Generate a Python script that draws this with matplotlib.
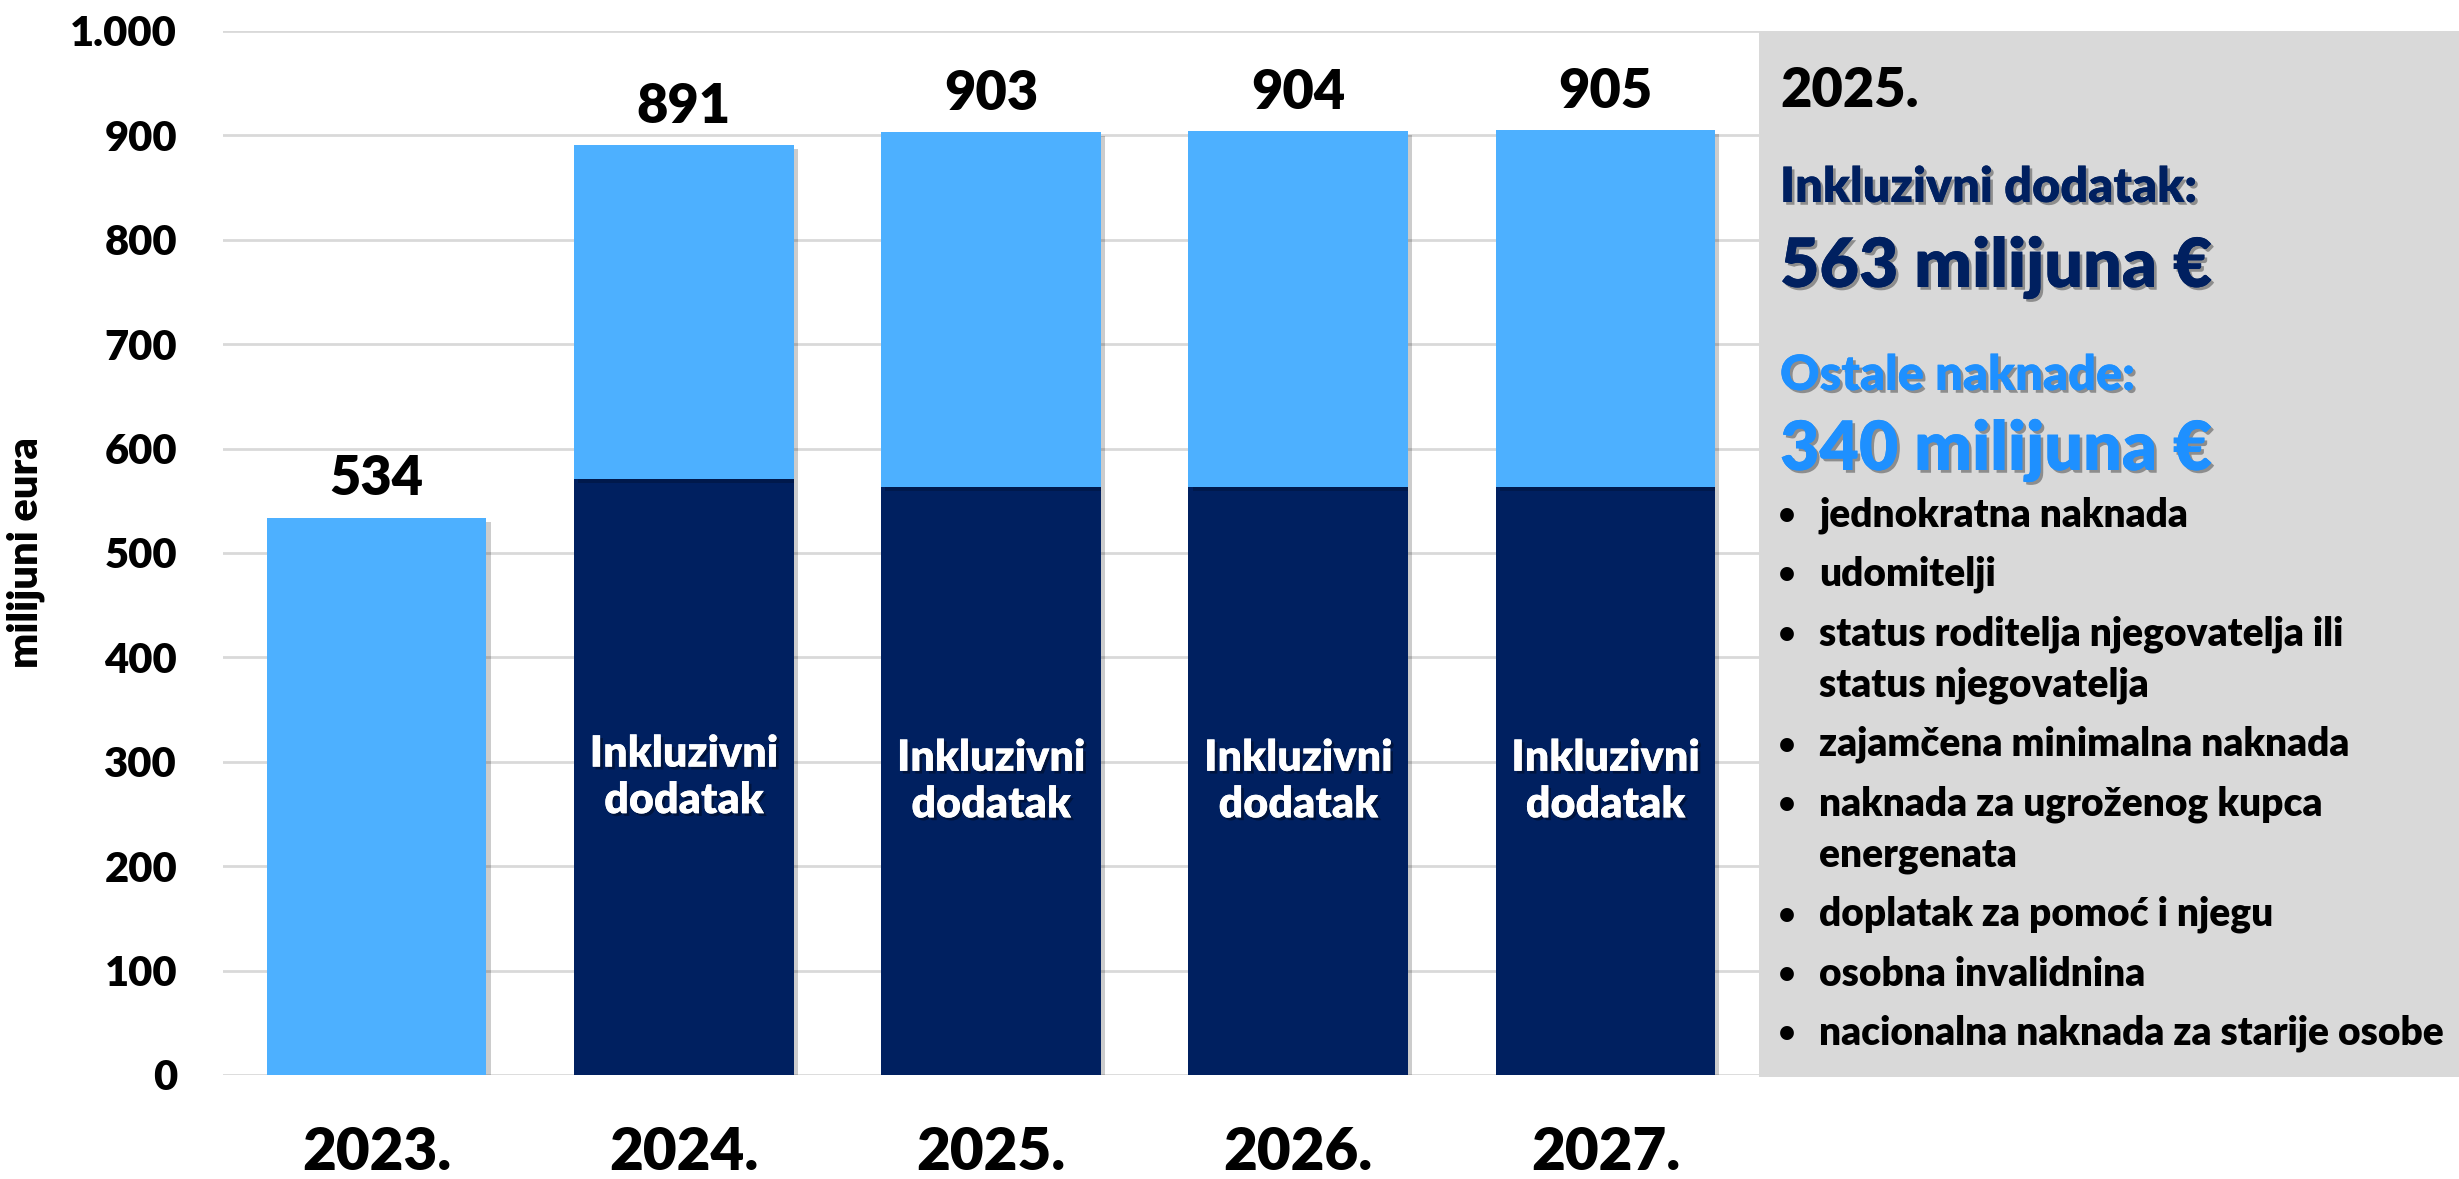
import matplotlib
matplotlib.use("Agg")
import matplotlib.pyplot as plt
import matplotlib.patheffects as pe
from matplotlib.patches import Rectangle
from matplotlib.ticker import FuncFormatter, MultipleLocator

plt.rcParams['font.family'] = ['Lato', 'DejaVu Sans']
WEIGHT = 'heavy'
plt.rcParams['font.weight'] = WEIGHT

# data (milijuni eura)
years = ['2023.', '2024.', '2025.', '2026.', '2027.']
inkluzivni = [0, 571, 563, 563, 563]
ostale = [534, 320, 340, 341, 342]
bar_label = 'Inkluzivni\ndodatak'

box_year = '2025.'
box_head1 = 'Inkluzivni dodatak:'
box_value1 = '563 milijuna €'
box_head2 = 'Ostale naknade:'
box_value2 = '340 milijuna €'
bullets = [
    ['jednokratna naknada'],
    ['udomitelji'],
    ['status roditelja njegovatelja ili', 'status njegovatelja'],
    ['zajamčena minimalna naknada'],
    ['naknada za ugroženog kupca', 'energenata'],
    ['doplatak za pomoć i njegu'],
    ['osobna invalidnina'],
    ['nacionalna naknada za starije osobe'],
]

DARK = '#002060'
LIGHT = '#4DB0FF'
TEXT_BLUE = '#1E90FF'
GREY = '#D9D9D9'

W, H = 2459, 1179
fig = plt.figure(figsize=(W / 100, H / 100), dpi=100)


def fx(x):
    return x / W


def fy(y):
    return 1 - y / H


ax = fig.add_axes([fx(223), fy(1075), fx(1759) - fx(223), fy(31) - fy(1075)])

shadow = [pe.withSimplePatchShadow(offset=(3, -3), shadow_rgbFace='black', alpha=0.2)]
xs = list(range(len(years)))
totals = [a + b for a, b in zip(inkluzivni, ostale)]

b1 = ax.bar(xs, inkluzivni, width=0.715, color=DARK, zorder=3)
b2 = ax.bar(xs, ostale, bottom=inkluzivni, width=0.715, color=LIGHT, zorder=3)
for r1, r2 in zip(b1, b2):
    r1.set_path_effects(shadow)
    r2.set_path_effects(shadow)

txt_shadow = [pe.withSimplePatchShadow(offset=(2, -2), shadow_rgbFace='black', alpha=0.35), pe.Normal()]
for x, d, t in zip(xs, inkluzivni, totals):
    ax.annotate(str(t), (x, t), xytext=(0, 16), textcoords='offset points',
                ha='center', va='baseline', fontsize=39, fontweight=WEIGHT, color='black')
    if d > 0:
        ax.text(x, d / 2, bar_label, ha='center', va='center', fontsize=31,
                fontweight=WEIGHT, color='white', linespacing=1.2,
                path_effects=txt_shadow, zorder=4)

ax.set_xlim(-0.5, len(years) - 0.5)
ax.set_ylim(0, 1000)
ax.yaxis.set_major_locator(MultipleLocator(100))
ax.yaxis.set_major_formatter(FuncFormatter(lambda v, p: f"{v:,.0f}".replace(',', '.')))
ax.set_xticks(xs)
ax.set_xticklabels(years)
ax.tick_params(axis='y', length=0, pad=33, labelsize=30)
ax.tick_params(axis='x', length=0, pad=37, labelsize=42)
ax.grid(axis='y', color=GREY, linewidth=2, zorder=0)
ax.set_axisbelow(True)
for s in ax.spines.values():
    s.set_visible(False)
ax.set_ylabel('milijuni eura', fontsize=30, fontweight=WEIGHT, labelpad=18)

# grey info panel on the right
fig.add_artist(Rectangle((fx(1759), fy(1077)), 1 - fx(1759), fy(31) - fy(1077),
                         transform=fig.transFigure, facecolor=GREY, edgecolor='none', zorder=0))

fig.text(fx(1780), fy(107), box_year, fontsize=39, color='black', va='baseline')
fig.text(fx(1780), fy(202), box_head1, fontsize=35, color=DARK, va='baseline', path_effects=txt_shadow)
fig.text(fx(1780), fy(287), box_value1, fontsize=49, color=DARK, va='baseline', path_effects=txt_shadow)
fig.text(fx(1780), fy(390), box_head2, fontsize=35, color=TEXT_BLUE, va='baseline', path_effects=txt_shadow)
fig.text(fx(1780), fy(470), box_value2, fontsize=49, color=TEXT_BLUE, va='baseline', path_effects=txt_shadow)

y = 515
for item in bullets:
    fig.text(fx(1787), fy(y), '•', fontsize=20, color='black', va='center', ha='center')
    for k, line in enumerate(item):
        fig.text(fx(1819), fy(y), line, fontsize=28, color='black', va='center')
        if k < len(item) - 1:
            y += 51
    y += 59.5

fig.savefig('out.png', dpi=100)
